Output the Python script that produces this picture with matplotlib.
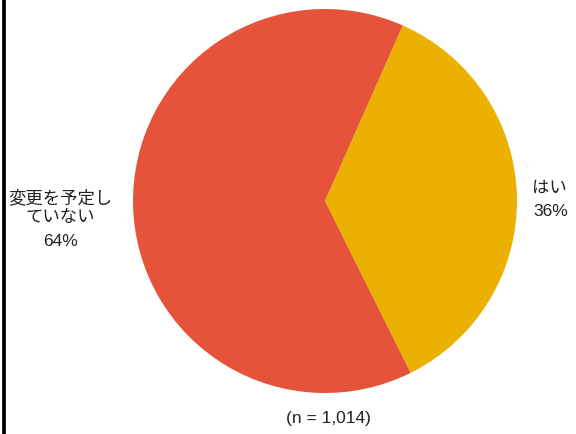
import matplotlib
matplotlib.use("Agg")
import matplotlib.pyplot as plt

plt.rcParams['font.family'] = ['Liberation Sans', 'Noto Sans CJK JP', 'DejaVu Sans']

labels = ["はい", "変更を予定し\nていない"]
values = [36, 64]
colors = ["#EBB000", "#E5533A"]
note = "(n = 1,014)"

W, H = 576, 434
fig = plt.figure(figsize=(5.76, 4.34), dpi=100)
ax = fig.add_axes([0, 0, 1, 1])

ax.pie(values, colors=colors, startangle=66.1, counterclock=False,
       center=(325, H - 201), radius=192, frame=True,
       wedgeprops=dict(linewidth=0))
ax.set_xlim(0, W)
ax.set_ylim(0, H)
ax.set_aspect('equal')
ax.axis('off')

fs = 12.5
tc = '#222222'
ax.text(549, H - 188, labels[0], ha='center', va='center', fontsize=fs, color=tc)
ax.text(551, H - 212, f"{values[0]}%", ha='center', va='center', fontsize=fs, color=tc)
ax.text(60, H - 207, labels[1], ha='center', va='center', fontsize=fs, color=tc,
        linespacing=1.3)
ax.text(61, H - 241, f"{values[1]}%", ha='center', va='center', fontsize=fs, color=tc)
ax.text(328, H - 419, note, ha='center', va='center', fontsize=fs, color=tc)

ax.axvline(4, color='black', linewidth=2.7)

fig.savefig("out.png", dpi=100)
